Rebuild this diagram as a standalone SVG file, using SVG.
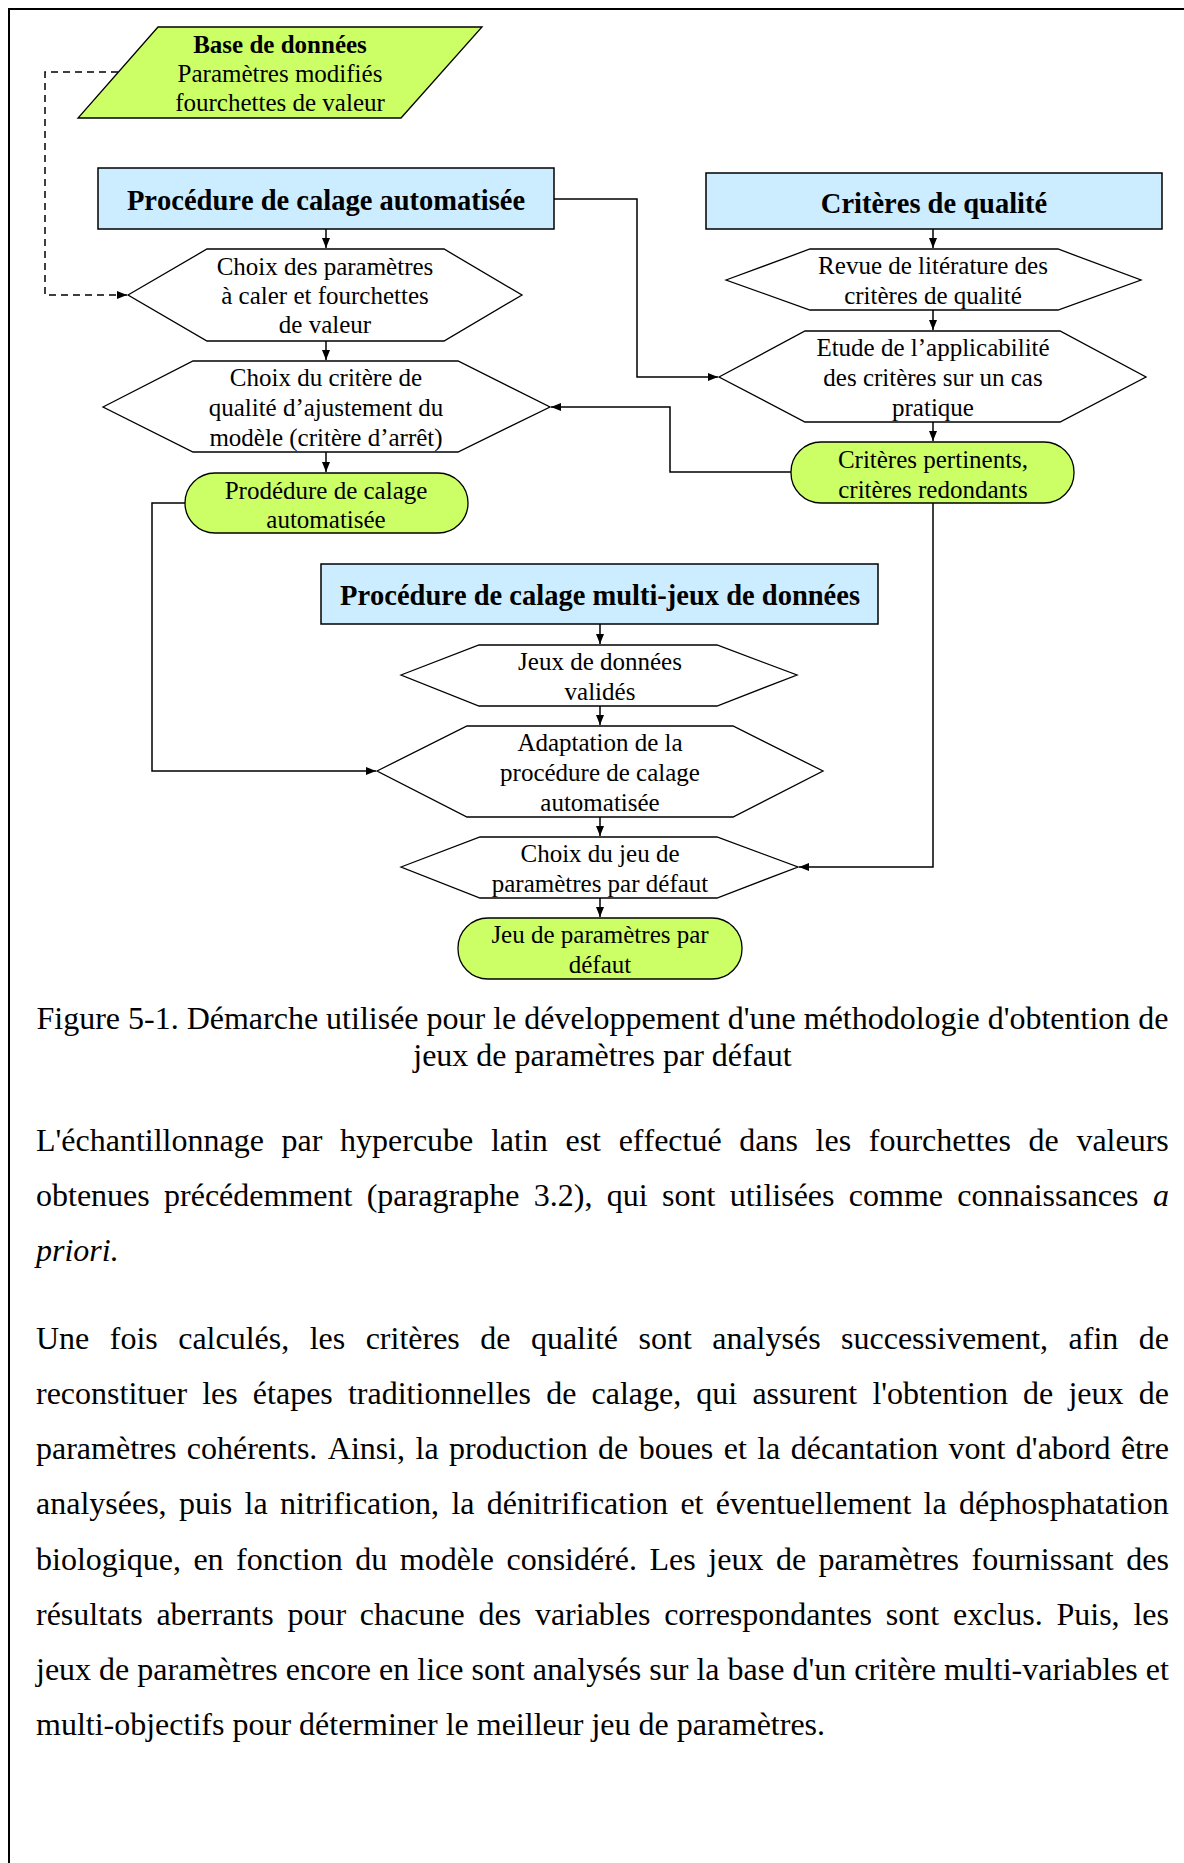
<svg xmlns="http://www.w3.org/2000/svg" width="1184" height="1863" viewBox="0 0 1184 1863">
<style>
text { font-family: "Liberation Serif", "Times New Roman", serif; font-kerning: none; fill: #000; }
.d { font-size: 25px; text-anchor: middle; }
.db { font-size: 25px; font-weight: bold; text-anchor: middle; }
.t { font-size: 28.5px; font-weight: bold; text-anchor: middle; }
.b { font-size: 32px; }
.c { font-size: 32px; text-anchor: middle; }
.box { fill: #CCECFF; stroke: #000; stroke-width: 1.5; }
.hex { fill: #FFFFFF; stroke: #000; stroke-width: 1.3; }
.green { fill: #CCFF66; stroke: #000; stroke-width: 1.3; }
.con { fill: none; stroke: #000; stroke-width: 1.5; marker-end: url(#arr); }
.dash { fill: none; stroke: #000; stroke-width: 1.5; stroke-dasharray: 7 5; marker-end: url(#arr); }
</style>
<defs>
<marker id="arr" viewBox="0 0 10 10" refX="10" refY="5" markerWidth="10" markerHeight="10" markerUnits="userSpaceOnUse" orient="auto">
<path d="M0,1 L10,5 L0,9 z" fill="#000"/>
</marker>
</defs>
<rect width="1184" height="1863" fill="#FFFFFF"/>
<path d="M9,1863 V9 H1184" fill="none" stroke="#000" stroke-width="2"/>

<g id="connectors">
<path class="dash" d="M118,72 H45 V295 H127"/>
<path class="con" d="M326,229 V248"/>
<path class="con" d="M326,341 V360"/>
<path class="con" d="M326,452 V472"/>
<path class="con" d="M554,199 H637 V377 H718"/>
<path class="con" d="M933,229 V248"/>
<path class="con" d="M933,310 V330"/>
<path class="con" d="M933,422 V441"/>
<path class="con" d="M791,472 H670 V407 H551"/>
<path class="con" d="M185,503 H152 V771 H376"/>
<path class="con" d="M933,503 V867 H799"/>
<path class="con" d="M600,624 V644"/>
<path class="con" d="M600,706 V725"/>
<path class="con" d="M600,817 V836"/>
<path class="con" d="M600,898 V917"/>
</g>

<g id="database">
<polygon class="green" points="158,27 482,27 401,118 78,118"/>
<text class="db" x="280" y="53">Base de données</text>
<text class="d" x="280" y="82">Paramètres modifiés</text>
<text class="d" x="280" y="111">fourchettes de valeur</text>
</g>

<g id="box-auto">
<rect class="box" x="98" y="168" width="456" height="61"/>
<text class="t" x="326" y="210">Procédure de calage automatisée</text>
</g>

<g id="hex-choix-param">
<polygon class="hex" points="128,295 207,249 444,249 522,295 444,341 207,341"/>
<text class="d" x="325" y="275">Choix des paramètres</text>
<text class="d" x="325" y="304">à caler et fourchettes</text>
<text class="d" x="325" y="333">de valeur</text>
</g>

<g id="hex-choix-critere">
<polygon class="hex" points="103,407 193,361 458,361 550,407 458,452 193,452"/>
<text class="d" x="326" y="386">Choix du critère de</text>
<text class="d" x="326" y="416">qualité d’ajustement du</text>
<text class="d" x="326" y="446">modèle (critère d’arrêt)</text>
</g>

<g id="stadium-procedure">
<rect class="green" x="185" y="473" width="283" height="60" rx="30" ry="30"/>
<text class="d" x="326" y="499">Prodédure de calage</text>
<text class="d" x="326" y="528">automatisée</text>
</g>

<g id="box-criteres">
<rect class="box" x="706" y="173" width="456" height="56"/>
<text class="t" x="934" y="213">Critères de qualité</text>
</g>

<g id="hex-revue">
<polygon class="hex" points="726,280 810,249 1058,249 1141,280 1058,310 810,310"/>
<text class="d" x="933" y="274">Revue de litérature des</text>
<text class="d" x="933" y="304">critères de qualité</text>
</g>

<g id="hex-etude">
<polygon class="hex" points="719,377 805,331 1060,331 1146,377 1060,422 805,422"/>
<text class="d" x="933" y="356">Etude de l’applicabilité</text>
<text class="d" x="933" y="386">des critères sur un cas</text>
<text class="d" x="933" y="416">pratique</text>
</g>

<g id="stadium-criteres">
<rect class="green" x="791" y="442" width="283" height="61" rx="30" ry="30"/>
<text class="d" x="933" y="468">Critères pertinents,</text>
<text class="d" x="933" y="498">critères redondants</text>
</g>

<g id="box-multi">
<rect class="box" x="321" y="564" width="557" height="60"/>
<text class="t" x="600" y="605">Procédure de calage multi-jeux de données</text>
</g>

<g id="hex-jeux">
<polygon class="hex" points="401,675 479,645 717,645 797,675 717,706 479,706"/>
<text class="d" x="600" y="670">Jeux de données</text>
<text class="d" x="600" y="700">validés</text>
</g>

<g id="hex-adaptation">
<polygon class="hex" points="377,771 467,726 733,726 823,771 733,817 467,817"/>
<text class="d" x="600" y="751">Adaptation de la</text>
<text class="d" x="600" y="781">procédure de calage</text>
<text class="d" x="600" y="811">automatisée</text>
</g>

<g id="hex-choix-jeu">
<polygon class="hex" points="401,867 480,837 717,837 798,867 717,898 480,898"/>
<text class="d" x="600" y="862">Choix du jeu de</text>
<text class="d" x="600" y="892">paramètres par défaut</text>
</g>

<g id="stadium-jeu">
<rect class="green" x="458" y="918" width="284" height="61" rx="30" ry="30"/>
<text class="d" x="600" y="943">Jeu de paramètres par</text>
<text class="d" x="600" y="973">défaut</text>
</g>

<g id="caption">
<text class="c" x="602.5" y="1029">Figure 5-1. Démarche utilisée pour le développement d'une méthodologie d'obtention de</text>
<text class="c" x="602.5" y="1066">jeux de paramètres par défaut</text>
</g>

<g id="body">
<text class="b" x="36" y="1151" style="word-spacing:9.64px">L'échantillonnage par hypercube latin est effectué dans les fourchettes de valeurs</text>
<text class="b" x="36" y="1206" style="word-spacing:6.31px">obtenues précédemment (paragraphe 3.2), qui sont utilisées comme connaissances <tspan font-style="italic">a</tspan></text>
<text class="b" x="36" y="1261" font-style="italic">priori.</text>
<text class="b" x="36" y="1349" style="word-spacing:12.44px">Une fois calculés, les critères de qualité sont analysés successivement, afin de</text>
<text class="b" x="36" y="1404" style="word-spacing:7.14px">reconstituer les étapes traditionnelles de calage, qui assurent l'obtention de jeux de</text>
<text class="b" x="36" y="1459" style="word-spacing:2.4px">paramètres cohérents. Ainsi, la production de boues et la décantation vont d'abord être</text>
<text class="b" x="36" y="1514" style="word-spacing:4.32px">analysées, puis la nitrification, la dénitrification et éventuellement la déphosphatation</text>
<text class="b" x="36" y="1570" style="word-spacing:4.51px">biologique, en fonction du modèle considéré. Les jeux de paramètres fournissant des</text>
<text class="b" x="36" y="1625" style="word-spacing:5.77px">résultats aberrants pour chacune des variables correspondantes sont exclus. Puis, les</text>
<text class="b" x="36" y="1680" style="word-spacing:0.03px">jeux de paramètres encore en lice sont analysés sur la base d'un critère multi-variables et</text>
<text class="b" x="36" y="1735">multi-objectifs pour déterminer le meilleur jeu de paramètres.</text>
</g>
</svg>
